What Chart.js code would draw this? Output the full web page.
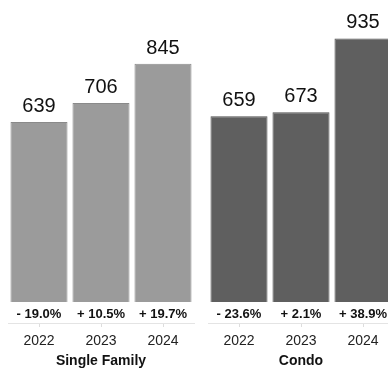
<!DOCTYPE html>
<html>
<head>
<meta charset="utf-8">
<script src="https://cdn.jsdelivr.net/npm/chart.js@4"></script>
<style>
  html, body { margin: 0; padding: 0; background: #fff; overflow: hidden; width: 388px; height: 370px; }
  .panel { position: absolute; top: 0; width: 200px; height: 370px; }
</style>
</head>
<body>
<div class="panel" style="left:0"><canvas id="sfChart" width="200" height="370"></canvas></div>
<div class="panel" style="left:200px"><canvas id="condoChart" width="200" height="370"></canvas></div>
<script>
const years = ["2022", "2023", "2024"];
const singleFamily = [639, 706, 845];
const singleFamilyChange = ["- 19.0%", "+ 10.5%", "+ 19.7%"];
const condo = [659, 673, 935];
const condoChange = ["- 23.6%", "+ 2.1%", "+ 38.9%"];

const FONT = "'Liberation Sans', Arial, sans-serif";

// value on top, % change under the bar
const labelsPlugin = {
  id: "barLabels",
  afterDatasetsDraw(chart, args, opts) {
    const ctx = chart.ctx;
    const meta = chart.getDatasetMeta(0);
    const base = chart.scales.y.getPixelForValue(0);
    ctx.save();
    ctx.textAlign = "center";
    meta.data.forEach((bar, i) => {
      ctx.fillStyle = "#111";
      ctx.font = "20px " + FONT;
      ctx.textBaseline = "alphabetic";
      ctx.fillText(chart.data.datasets[0].data[i], bar.x, bar.y - 10);
      ctx.font = "bold 13px " + FONT;
      ctx.textBaseline = "middle";
      ctx.fillText(opts.changes[i], bar.x, base + 12);
    });
    ctx.restore();
  }
};

function makeChart(id, values, changes, color, border, title) {
  return new Chart(document.getElementById(id).getContext("2d"), {
    type: "bar",
    data: {
      labels: years,
      datasets: [{
        data: values,
        backgroundColor: color,
        borderColor: border,
        borderWidth: 1,
        barPercentage: 0.92,
        categoryPercentage: 1
      }]
    },
    options: {
      responsive: false,
      animation: false,
      layout: { padding: { top: 10, left: 8, right: 6, bottom: 0 } },
      plugins: {
        legend: { display: false },
        tooltip: { enabled: false },
        barLabels: { changes: changes }
      },
      scales: {
        y: { display: false, min: -74.5, max: 1036 },
        x: {
          afterFit(scale) { scale.height = 47; },
          grid: { drawOnChartArea: false, offset: false, color: "#ddd", tickLength: 4 },
          border: { color: "#e4e4e4" },
          ticks: { color: "#222", font: { family: FONT, size: 14 }, padding: 6 },
          title: {
            display: true,
            text: title,
            color: "#111",
            font: { family: FONT, size: 14, weight: "bold" },
            padding: { top: 0, bottom: 0 }
          }
        }
      }
    },
    plugins: [labelsPlugin]
  });
}

makeChart("sfChart", singleFamily, singleFamilyChange, "#9b9b9b", "#8a8a8a", "Single Family");
makeChart("condoChart", condo, condoChange, "#5f5f5f", "#505050", "Condo");
</script>
</body>
</html>
